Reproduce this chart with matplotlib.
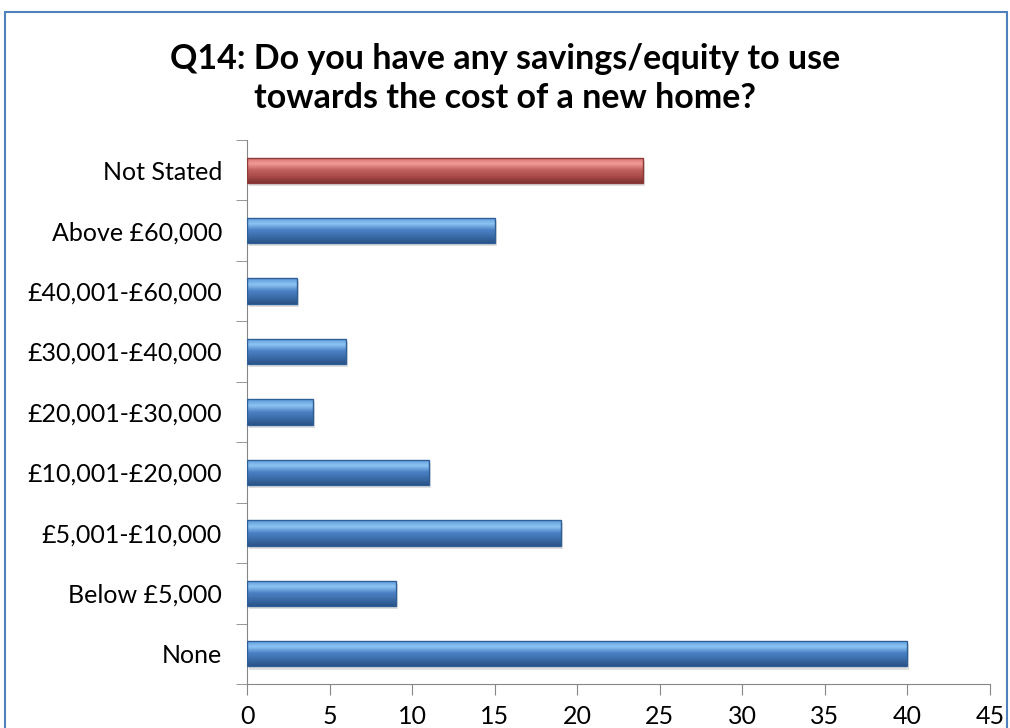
import numpy as np
import matplotlib.pyplot as plt
from matplotlib.patches import Rectangle
from matplotlib.colors import LinearSegmentedColormap

plt.rcParams['font.family'] = ['Lato', 'DejaVu Sans']

# --- Dati ---
categorie = ['None', 'Below £5,000', '£5,001-£10,000', '£10,001-£20,000',
             '£20,001-£30,000', '£30,001-£40,000', '£40,001-£60,000',
             'Above £60,000', 'Not Stated']
valori = [40, 9, 19, 11, 4, 6, 3, 15, 24]
colori = ['blue'] * 8 + ['red']
xticks = [0, 5, 10, 15, 20, 25, 30, 35, 40, 45]
titolo = 'Q14: Do you have any savings/equity to use\ntowards the cost of a new home?'

# gradienti stile Excel (alto -> basso)
gradienti = {
    'blue': LinearSegmentedColormap.from_list('b', ['#2a5287', '#3b6ca8', '#4a80c4', '#8cc4f2', '#5d99db']),
    'red': LinearSegmentedColormap.from_list('r', ['#7e3331', '#a84a47', '#c0605d', '#f29a98', '#d46f6c']),
}
bordi = {'blue': '#2f5f97', 'red': '#8c3b39'}

fig = plt.figure(figsize=(10.1, 7.28), dpi=100)
ax = fig.add_axes([0.2446, 0.0604, 0.7356, 0.7473])

y = np.arange(len(categorie))
barre = ax.barh(y, valori, height=0.42, color='none', zorder=3)

grad = np.linspace(0, 1, 64).reshape(-1, 1)
for b, c in zip(barre, colori):
    x0, y0, w, h = b.get_x(), b.get_y(), b.get_width(), b.get_height()
    # ombra
    ax.add_patch(Rectangle((x0 + 0.12, y0 - 0.05), w, h, color='#000000', alpha=0.12, lw=0, zorder=2))
    im = ax.imshow(grad, cmap=gradienti[c], aspect='auto', origin='lower',
                   extent=(x0, x0 + w, y0, y0 + h), zorder=3)
    im.set_clip_path(b)
    ax.add_patch(Rectangle((x0, y0), w, h, fill=False, ec=bordi[c], lw=1, zorder=4))

ax.set_xlim(0, 45)
ax.set_ylim(-0.5, len(categorie) - 0.5)
ax.set_xticks(xticks)
ax.set_yticks(y)
ax.set_yticklabels(categorie)
ax.set_yticks(np.arange(-0.5, len(categorie), 1), minor=True)

for s in ['top', 'right']:
    ax.spines[s].set_visible(False)
for s in ['left', 'bottom']:
    ax.spines[s].set_color('#868686')
ax.tick_params(axis='x', direction='out', length=8, color='#868686', labelsize=18, pad=7)
ax.tick_params(axis='y', which='major', length=0, labelsize=18, pad=18)
ax.tick_params(axis='y', which='minor', direction='out', length=8, color='#868686')

fig.text(0.5, 0.892, titolo, ha='center', va='center', fontsize=24.5, fontweight='bold',
         linespacing=1.25)

# bordo del grafico
fig.patches.append(Rectangle((0.005, -0.05), 0.992, 1.034, transform=fig.transFigure,
                             fill=False, ec='#4f81bd', lw=1.5))

fig.savefig('out.png', dpi=100)
